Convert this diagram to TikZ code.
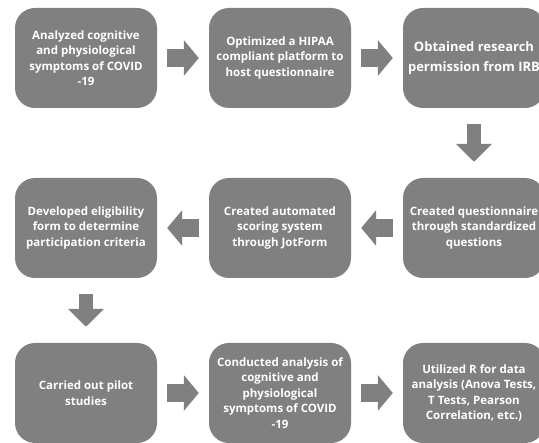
\documentclass[tikz,border=0pt]{standalone}
\usepackage{fontspec}
\setmainfont{Open Sans}
\usetikzlibrary{arrows.meta, positioning}

\definecolor{stepgray}{HTML}{808080}

\begin{document}
\begin{tikzpicture}[node distance = 194pt,
    stepbox/.style = {rectangle, rounded corners = 20pt, fill = stepgray, text = white,
        minimum width = 142pt, minimum height = 100pt, align = center, inner sep = 0pt,
        font = \bfseries\fontsize{11.5}{15.5}\selectfont},
    flowh/.style = {draw = stepgray, line width = 18pt, -{Triangle[width = 35pt, length = 15pt]},
        shorten < = 10pt, shorten > = 10pt},
    flowv/.style = {draw = stepgray, line width = 14pt, -{Triangle[width = 35pt, length = 18pt]},
        shorten < = 16pt, shorten > = 16pt}]
    \useasboundingbox (0pt,0pt) rectangle (539pt,-443pt);
    \node[stepbox]  (0) at (86pt,-58pt)          {Analyzed cognitive\\and physiological\\symptoms of COVID\\-19};
    \node[stepbox]  (1) [right of=0]             {Optimized a HIPAA\\compliant platform to\\host questionnaire};
    \node[stepbox, font=\bfseries\fontsize{13}{20}\selectfont]
                    (2) [right of=1]             {Obtained research\\permission from IRB};
    \node[stepbox]  (3) [below of=2, node distance=170pt] {Created questionnaire\\through standardized\\questions};
    \node[stepbox]  (4) [left of=3]              {Created automated\\scoring system\\through JotForm};
    \node[stepbox]  (5) [left of=4]              {Developed eligibility\\form to determine\\participation criteria};
    \node[stepbox]  (6) [below of=5, node distance=165pt] {Carried out pilot\\studies};
    \node[stepbox]  (7) [right of=6]             {Conducted analysis of\\cognitive and\\physiological\\symptoms of COVID\\-19};
    \node[stepbox]  (8) [right of=7]             {Utilized R for data\\analysis (Anova Tests,\\T Tests, Pearson\\Correlation, etc.)};
    \path[flowh] (0) -- (1);
    \path[flowh] (1) -- (2);
    \path[flowv] (2) -- (3);
    \path[flowh] (3) -- (4);
    \path[flowh] (4) -- (5);
    \path[flowv] (5) -- (6);
    \path[flowh] (6) -- (7);
    \path[flowh] (7) -- (8);
\end{tikzpicture}
\end{document}
